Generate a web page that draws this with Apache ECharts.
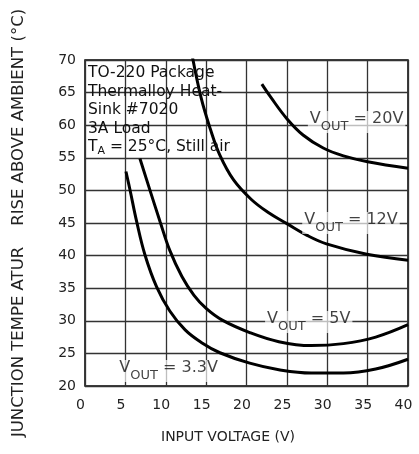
<!DOCTYPE html>
<html>
<head>
<meta charset="utf-8">
<script src="https://cdn.jsdelivr.net/npm/echarts@6/dist/echarts.min.js"></script>
<style>html,body{margin:0;padding:0;background:#fff}#c{width:419px;height:454px}</style>
</head>
<body>
<div id="c"></div>
<script>
// Data
const xTicks = [0, 5, 10, 15, 20, 25, 30, 35, 40];
const yTicks = [20, 25, 30, 35, 40, 45, 50, 55, 60, 65, 70];

const v33x = [5.07, 5.57, 6.4, 7.43, 8.87, 10.5, 12.4, 14.5, 16.7, 20.4, 24, 28, 32, 36, 40];
const v33y = [52.9, 50.1, 45.2, 40.1, 35.2, 31.5, 28.6, 26.6, 25.1, 23.5, 22.5, 22.0, 22.0, 22.6, 24.1];

const v5x = [6.8, 8.0, 9.3, 10.5, 12.0, 13.5, 15.0, 17.0, 20.4, 24, 28, 32, 36, 40];
const v5y = [54.9, 50.2, 45.2, 40.8, 36.8, 33.9, 31.9, 30.1, 28.2, 26.8, 26.2, 26.5, 27.5, 29.4];

const v12x = [13.3, 14.4, 15.5, 16.7, 18.4, 20.6, 22.7, 25, 27.5, 29.9, 34.9, 40];
const v12y = [70.5, 64.1, 59.5, 55.4, 51.6, 48.6, 46.6, 44.9, 43.1, 41.8, 40.2, 39.3];

const v20x = [21.9, 23, 25, 27, 29.5, 32, 35, 40];
const v20y = [66.3, 64.3, 61.0, 58.5, 56.5, 55.3, 54.4, 53.4];

const yTitle = 'JUNCTION TEMPE ATUR    RISE ABOVE AMBIENT (°C)';
const xTitle = 'INPUT VOLTAGE (V)';

const zip = (a, b) => a.map((v, i) => [v, b[i]]);
const FONT = 'DejaVu Sans';

function curve(name, xs, ys) {
  return {
    name, type: 'line', smooth: 0.4, showSymbol: false, symbol: 'none',
    lineStyle: { color: '#000', width: 3 }, data: zip(xs, ys), z: 3, clip: true
  };
}
const rich = {
  v: { fontSize: 16, fontFamily: FONT, color: '#111', lineHeight: 22, verticalAlign: 'top' },
  s: { fontSize: 13, fontFamily: FONT, color: '#111', lineHeight: 22, verticalAlign: 'bottom', padding: [8, 0, 0, 0] }
};
function vlabel(x, y, val) {
  return {
    type: 'scatter', symbolSize: 0, z: 5, silent: true,
    data: [[x, y]],
    label: {
      show: true, position: 'right', distance: 0,
      formatter: '{v|V}{s|OUT}{v| = ' + val + '}',
      backgroundColor: 'rgba(255,255,255,0.85)', padding: [0, 2, 0, 2],
      rich
    }
  };
}

const chart = echarts.init(document.getElementById('c'), null, { renderer: 'canvas' });
chart.setOption({
  animation: false,
  backgroundColor: '#fff',
  grid: { left: 85, right: 11, top: 60, bottom: 68, show: true, borderColor: '#000', borderWidth: 1.5 },
  xAxis: {
    type: 'value', min: 0, max: 40, interval: 5,
    name: xTitle, nameLocation: 'middle', nameGap: 44,
    nameTextStyle: { fontFamily: FONT, fontSize: 14, color: '#222', padding: [0, 37, 0, 0] },
    axisLine: { show: false }, axisTick: { show: false },
    axisLabel: { fontFamily: FONT, fontSize: 14, color: '#222', margin: 12, padding: [0, 9, 0, 0],
      formatter: v => xTicks.includes(v) ? String(v) : '' },
    splitLine: { show: true, lineStyle: { color: '#333', width: 1.3 } }
  },
  yAxis: {
    type: 'value', min: 20, max: 70, interval: 5,
    name: yTitle, nameLocation: 'middle', nameGap: 58, nameRotate: 90,
    nameTextStyle: { fontFamily: FONT, fontSize: 16.5, color: '#222' },
    axisLine: { show: false }, axisTick: { show: false },
    axisLabel: { fontFamily: FONT, fontSize: 14, color: '#222', margin: 9,
      formatter: v => yTicks.includes(v) ? String(v) : '' },
    splitLine: { show: true, lineStyle: { color: '#333', width: 1.3 } }
  },
  graphic: [{
    type: 'text', left: 88, top: 64, z: 10,
    style: {
      text: 'TO-220 Package\nThermalloy Heat-\nSink #7020\n3A Load\n{a|T}{b|A}{a| = 25°C, Still air}',
      font: '15.5px "DejaVu Sans"', fill: '#111', lineHeight: 18.5,
      rich: {
        a: { font: '15.5px "DejaVu Sans"', fill: '#111', lineHeight: 18.5 },
        b: { font: '11px "DejaVu Sans"', fill: '#111', lineHeight: 18.5, verticalAlign: 'bottom', padding: [6, 0, 0, 0] }
      }
    }
  }],
  series: [
    curve('3.3V', v33x, v33y),
    curve('5V', v5x, v5y),
    curve('12V', v12x, v12y),
    curve('20V', v20x, v20y),
    vlabel(27.6, 60.5, '20V'),
    vlabel(26.9, 45.0, '12V'),
    vlabel(22.3, 29.8, '5V'),
    vlabel(4.0, 22.3, '3.3V')
  ]
});
</script>
</body>
</html>
